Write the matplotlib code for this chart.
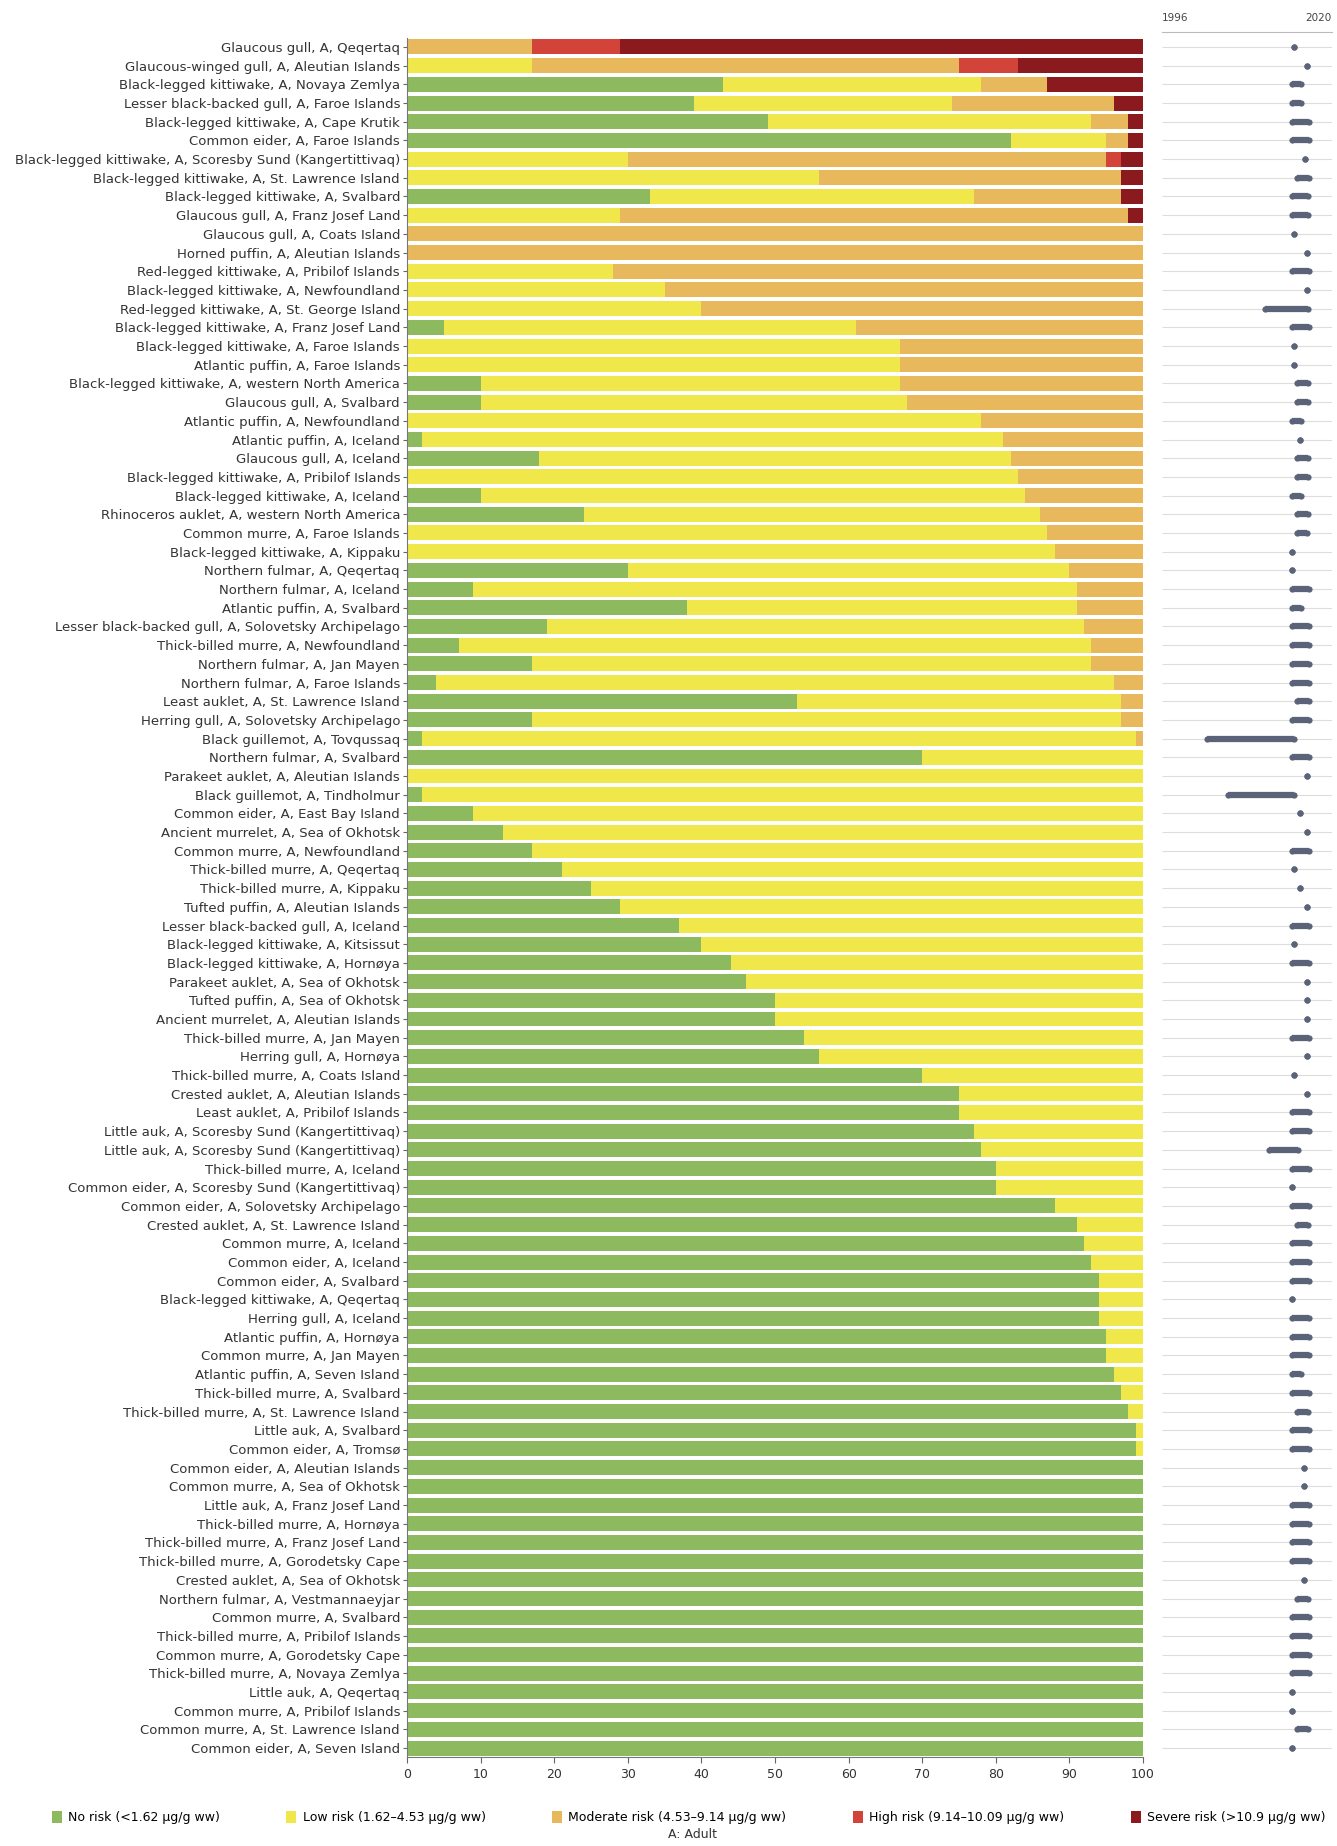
import matplotlib
matplotlib.use("Agg")
import matplotlib.pyplot as plt
from matplotlib.patches import Patch

labels = [
    "Glaucous gull, A, Qeqertaq",
    "Glaucous-winged gull, A, Aleutian Islands",
    "Black-legged kittiwake, A, Novaya Zemlya",
    "Lesser black-backed gull, A, Faroe Islands",
    "Black-legged kittiwake, A, Cape Krutik",
    "Common eider, A, Faroe Islands",
    "Black-legged kittiwake, A, Scoresby Sund (Kangertittivaq)",
    "Black-legged kittiwake, A, St. Lawrence Island",
    "Black-legged kittiwake, A, Svalbard",
    "Glaucous gull, A, Franz Josef Land",
    "Glaucous gull, A, Coats Island",
    "Horned puffin, A, Aleutian Islands",
    "Red-legged kittiwake, A, Pribilof Islands",
    "Black-legged kittiwake, A, Newfoundland",
    "Red-legged kittiwake, A, St. George Island",
    "Black-legged kittiwake, A, Franz Josef Land",
    "Black-legged kittiwake, A, Faroe Islands",
    "Atlantic puffin, A, Faroe Islands",
    "Black-legged kittiwake, A, western North America",
    "Glaucous gull, A, Svalbard",
    "Atlantic puffin, A, Newfoundland",
    "Atlantic puffin, A, Iceland",
    "Glaucous gull, A, Iceland",
    "Black-legged kittiwake, A, Pribilof Islands",
    "Black-legged kittiwake, A, Iceland",
    "Rhinoceros auklet, A, western North America",
    "Common murre, A, Faroe Islands",
    "Black-legged kittiwake, A, Kippaku",
    "Northern fulmar, A, Qeqertaq",
    "Northern fulmar, A, Iceland",
    "Atlantic puffin, A, Svalbard",
    "Lesser black-backed gull, A, Solovetsky Archipelago",
    "Thick-billed murre, A, Newfoundland",
    "Northern fulmar, A, Jan Mayen",
    "Northern fulmar, A, Faroe Islands",
    "Least auklet, A, St. Lawrence Island",
    "Herring gull, A, Solovetsky Archipelago",
    "Black guillemot, A, Tovqussaq",
    "Northern fulmar, A, Svalbard",
    "Parakeet auklet, A, Aleutian Islands",
    "Black guillemot, A, Tindholmur",
    "Common eider, A, East Bay Island",
    "Ancient murrelet, A, Sea of Okhotsk",
    "Common murre, A, Newfoundland",
    "Thick-billed murre, A, Qeqertaq",
    "Thick-billed murre, A, Kippaku",
    "Tufted puffin, A, Aleutian Islands",
    "Lesser black-backed gull, A, Iceland",
    "Black-legged kittiwake, A, Kitsissut",
    "Black-legged kittiwake, A, Hornøya",
    "Parakeet auklet, A, Sea of Okhotsk",
    "Tufted puffin, A, Sea of Okhotsk",
    "Ancient murrelet, A, Aleutian Islands",
    "Thick-billed murre, A, Jan Mayen",
    "Herring gull, A, Hornøya",
    "Thick-billed murre, A, Coats Island",
    "Crested auklet, A, Aleutian Islands",
    "Least auklet, A, Pribilof Islands",
    "Little auk, A, Scoresby Sund (Kangertittivaq)",
    "Little auk, A, Scoresby Sund (Kangertittivaq)",
    "Thick-billed murre, A, Iceland",
    "Common eider, A, Scoresby Sund (Kangertittivaq)",
    "Common eider, A, Solovetsky Archipelago",
    "Crested auklet, A, St. Lawrence Island",
    "Common murre, A, Iceland",
    "Common eider, A, Iceland",
    "Common eider, A, Svalbard",
    "Black-legged kittiwake, A, Qeqertaq",
    "Herring gull, A, Iceland",
    "Atlantic puffin, A, Hornøya",
    "Common murre, A, Jan Mayen",
    "Atlantic puffin, A, Seven Island",
    "Thick-billed murre, A, Svalbard",
    "Thick-billed murre, A, St. Lawrence Island",
    "Little auk, A, Svalbard",
    "Common eider, A, Tromsø",
    "Common eider, A, Aleutian Islands",
    "Common murre, A, Sea of Okhotsk",
    "Little auk, A, Franz Josef Land",
    "Thick-billed murre, A, Hornøya",
    "Thick-billed murre, A, Franz Josef Land",
    "Thick-billed murre, A, Gorodetsky Cape",
    "Crested auklet, A, Sea of Okhotsk",
    "Northern fulmar, A, Vestmannaeyjar",
    "Common murre, A, Svalbard",
    "Thick-billed murre, A, Pribilof Islands",
    "Common murre, A, Gorodetsky Cape",
    "Thick-billed murre, A, Novaya Zemlya",
    "Little auk, A, Qeqertaq",
    "Common murre, A, Pribilof Islands",
    "Common murre, A, St. Lawrence Island",
    "Common eider, A, Seven Island",
]

no_risk = [0, 0, 43, 39, 49, 82, 0, 0, 33, 0,
           0, 0, 0, 0, 0, 5, 0, 0, 10, 10,
           0, 2, 18, 0, 10, 24, 0, 0, 30, 9,
           38, 19, 7, 17, 4, 53, 17, 2, 70, 0,
           2, 9, 13, 17, 21, 25, 29, 37, 40, 44,
           46, 50, 50, 54, 56, 70, 75, 75, 77, 78,
           80, 80, 88, 91, 92, 93, 94, 94, 94, 95,
           95, 96, 97, 98, 99, 99, 100, 100, 100, 100,
           100, 100, 100, 100, 100, 100, 100, 100, 100, 100,
           100, 100]
low_risk = [0, 17, 35, 35, 44, 13, 30, 56, 44, 29,
            0, 0, 28, 35, 40, 56, 67, 67, 57, 58,
            78, 79, 64, 83, 74, 62, 87, 88, 60, 82,
            53, 73, 86, 76, 92, 44, 80, 97, 30, 100,
            98, 91, 87, 83, 79, 75, 71, 63, 60, 56,
            54, 50, 50, 46, 44, 30, 25, 25, 23, 22,
            20, 20, 12, 9, 8, 7, 6, 6, 6, 5,
            5, 4, 3, 2, 1, 1, 0, 0, 0, 0,
            0, 0, 0, 0, 0, 0, 0, 0, 0, 0,
            0, 0]
moderate_risk = [17, 58, 9, 22, 5, 3, 65, 41, 20, 69,
                 100, 100, 72, 65, 60, 39, 33, 33, 33, 32,
                 22, 19, 18, 17, 16, 14, 13, 12, 10, 9,
                 9, 8, 7, 7, 4, 3, 3, 1, 0, 0,
                 0, 0, 0, 0, 0, 0, 0, 0, 0, 0,
                 0, 0, 0, 0, 0, 0, 0, 0, 0, 0,
                 0, 0, 0, 0, 0, 0, 0, 0, 0, 0,
                 0, 0, 0, 0, 0, 0, 0, 0, 0, 0,
                 0, 0, 0, 0, 0, 0, 0, 0, 0, 0,
                 0, 0]
high_risk = [12, 8, 0, 0, 0, 0, 2, 0, 0, 0] + [0] * 82
severe_risk = [71, 17, 13, 4, 2, 2, 3, 3, 3, 2] + [0] * 82

# sampling period (years) shown in right panel
year_start = [2014.6, 2016.4, 2014.4, 2014.4, 2014.4, 2014.4, 2016.2, 2015.0, 2014.4, 2014.4,
              2014.6, 2016.4, 2014.4, 2016.4, 2010.6, 2014.4, 2014.6, 2014.6, 2015.0, 2015.0,
              2014.4, 2015.5, 2015.1, 2015.1, 2014.4, 2015.1, 2015.0, 2014.4, 2014.4, 2014.4,
              2014.4, 2014.4, 2014.4, 2014.4, 2014.4, 2015.0, 2014.4, 2002.4, 2014.4, 2016.4,
              2005.3, 2015.5, 2016.4, 2014.4, 2014.6, 2015.5, 2016.4, 2014.4, 2014.6, 2014.4,
              2016.4, 2016.4, 2016.4, 2014.4, 2016.4, 2014.6, 2016.4, 2014.4, 2014.4, 2011.1,
              2014.4, 2014.4, 2014.4, 2015.1, 2014.4, 2014.4, 2014.4, 2014.4, 2014.4, 2014.4,
              2014.4, 2014.4, 2014.4, 2015.1, 2014.4, 2014.4, 2016.0, 2016.0, 2014.4, 2014.4,
              2014.4, 2014.4, 2016.0, 2015.1, 2014.4, 2014.4, 2014.4, 2014.4, 2014.4, 2014.4,
              2015.1, 2014.4]
year_end = [2014.6, 2016.4, 2015.6, 2015.6, 2016.7, 2016.7, 2016.2, 2016.7, 2016.6, 2016.6,
            2014.6, 2016.4, 2016.7, 2016.4, 2016.6, 2016.7, 2014.6, 2014.6, 2016.6, 2016.6,
            2015.6, 2015.5, 2016.6, 2016.6, 2015.6, 2016.6, 2016.4, 2014.4, 2014.4, 2016.7,
            2015.6, 2016.7, 2016.7, 2016.7, 2016.7, 2016.7, 2016.7, 2014.7, 2016.7, 2016.4,
            2014.7, 2015.5, 2016.4, 2016.7, 2014.6, 2015.5, 2016.4, 2016.7, 2014.6, 2016.7,
            2016.4, 2016.4, 2016.4, 2016.7, 2016.4, 2014.6, 2016.4, 2016.7, 2016.7, 2015.2,
            2016.7, 2014.4, 2016.7, 2016.6, 2016.7, 2016.7, 2016.7, 2014.4, 2016.7, 2016.7,
            2016.7, 2015.6, 2016.7, 2016.6, 2016.7, 2016.7, 2016.0, 2016.0, 2016.7, 2016.7,
            2016.7, 2016.7, 2016.0, 2016.6, 2016.7, 2016.7, 2016.7, 2016.7, 2014.4, 2014.4,
            2016.6, 2014.4]

categories = ["No risk (<1.62 µg/g ww)", "Low risk (1.62–4.53 µg/g ww)",
              "Moderate risk (4.53–9.14 µg/g ww)", "High risk (9.14–10.09 µg/g ww)",
              "Severe risk (>10.9 µg/g ww)"]
colors = ["#8dba5f", "#f0e84a", "#e8b85c", "#d2443a", "#8a1a1e"]
series = [no_risk, low_risk, moderate_risk, high_risk, severe_risk]

plt.rcParams["font.family"] = ["DejaVu Sans"]

fig = plt.figure(figsize=(13.37, 18.46), dpi=100)
bottom_f = 1 - 1757.4 / 1846
top_f = 1 - 37.6 / 1846
ax = fig.add_axes([407 / 1337, bottom_f, (1143 - 407) / 1337, top_f - bottom_f])

n = len(labels)
ypos = list(range(n))
left = [0] * n
for vals, col in zip(series, colors):
    ax.barh(ypos, vals, left=left, height=0.8, color=col, edgecolor="none")
    left = [a + b for a, b in zip(left, vals)]

ax.set_ylim(n - 0.5, -0.5)
ax.set_xlim(0, 100)
ax.set_yticks(ypos)
ax.set_yticklabels(labels, fontsize=9.5, color="#333333")
ax.set_xticks(range(0, 101, 10))
ax.tick_params(axis="x", labelsize=9, length=4, color="#666666", labelcolor="#333333")
ax.tick_params(axis="y", length=3, color="#666666", pad=2)
for s in ["top", "right"]:
    ax.spines[s].set_visible(False)
ax.spines["left"].set_color("#777777")
ax.spines["bottom"].set_color("#777777")

# right panel: sampling years
ax2 = fig.add_axes([1162 / 1337, bottom_f, (1332 - 1162) / 1337, top_f - bottom_f])
ax2.set_xlim(1996, 2020)
ax2.set_ylim(n - 0.5, -0.5)
ax2.hlines(ypos, 1996, 2020, color="#dddddd", linewidth=0.8)
ax2.hlines(ypos, year_start, year_end, color="#5b6378", linewidth=4.5)
ax2.scatter(year_start, ypos, s=20, color="#5b6378", linewidths=0, zorder=3)
ax2.scatter(year_end, ypos, s=20, color="#5b6378", linewidths=0, zorder=3)
ax2.axis("off")
ax2.text(0.0, 1.0115, "1996", transform=ax2.transAxes, ha="left", va="center",
         fontsize=7.5, color="#444444")
ax2.text(1.0, 1.0115, "2020", transform=ax2.transAxes, ha="right", va="center",
         fontsize=7.5, color="#444444")
ax2.plot([0, 1], [1.0035, 1.0035], transform=ax2.transAxes, color="#bbbbbb",
         linewidth=0.8, clip_on=False)

handles = [Patch(facecolor=c, edgecolor="none") for c in colors]
fig.legend(handles, categories, loc="lower left", ncol=5, mode="expand",
           bbox_to_anchor=(0.035, 0.009, 0.96, 0.025), frameon=False,
           fontsize=9, handlelength=0.8, handleheight=1.1, handletextpad=0.5,
           borderaxespad=0)
fig.text(0.518, 0.006, "A: Adult", ha="center", va="center", fontsize=9, color="#333333")

fig.savefig("out.png", dpi=100, facecolor="white")
